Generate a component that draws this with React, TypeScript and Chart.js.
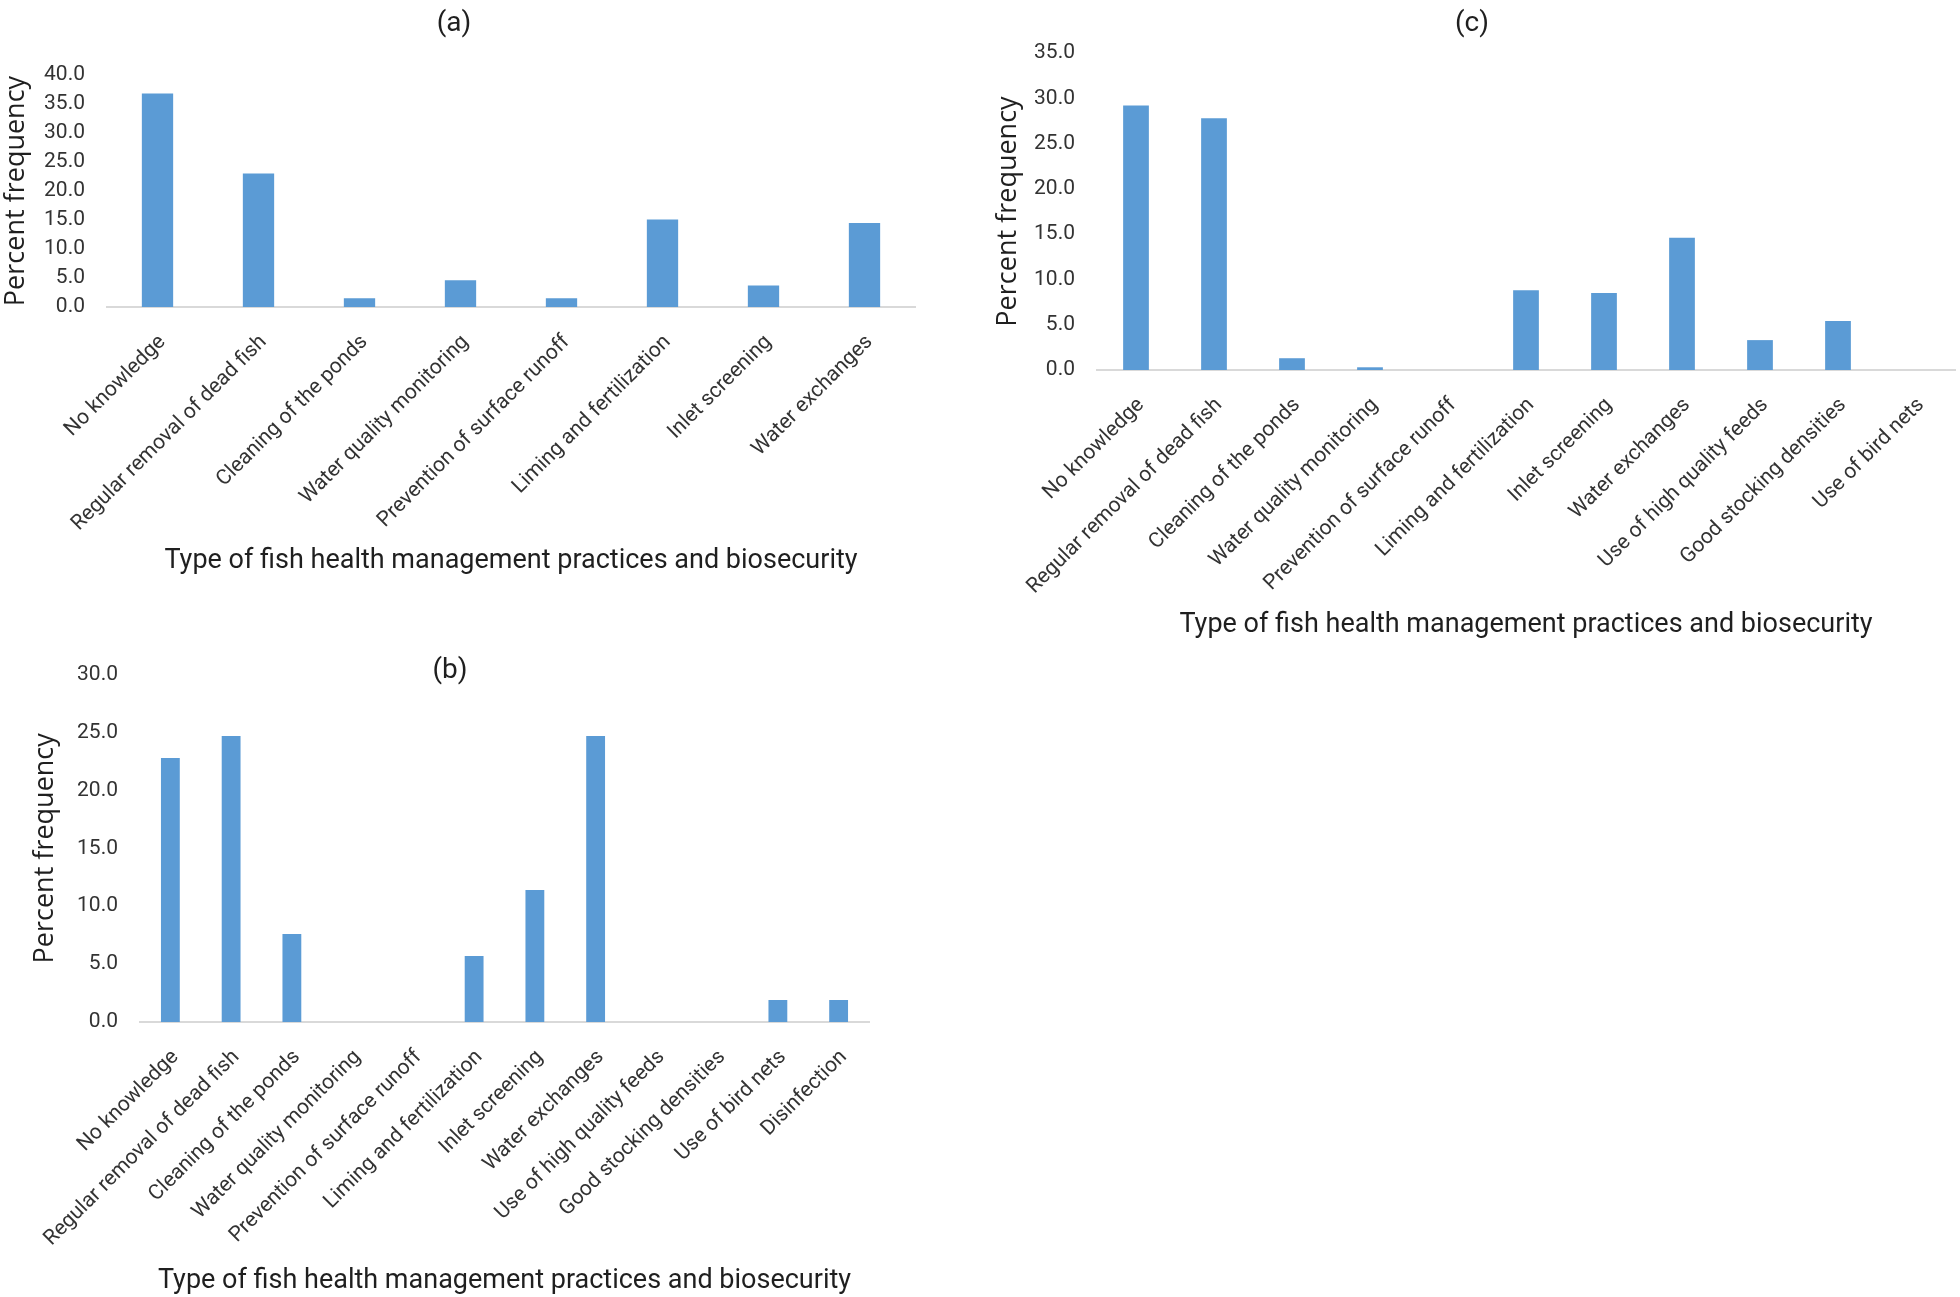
import React, { useEffect, useRef } from "react";
import { Chart, registerables } from "chart.js";

Chart.register(...registerables);

// ---------- data ----------
const categoriesA = [
  "No knowledge",
  "Regular removal of dead fish",
  "Cleaning of the ponds",
  "Water quality monitoring",
  "Prevention of surface runoff",
  "Liming and fertilization",
  "Inlet screening",
  "Water exchanges",
];
const valuesA = [36.8, 23.0, 1.5, 4.6, 1.5, 15.1, 3.7, 14.5];

const categoriesC = [
  "No knowledge",
  "Regular removal of dead fish",
  "Cleaning of the ponds",
  "Water quality monitoring",
  "Prevention of surface runoff",
  "Liming and fertilization",
  "Inlet screening",
  "Water exchanges",
  "Use of high quality feeds",
  "Good stocking densities",
  "Use of bird nets",
];
const valuesC = [29.2, 27.8, 1.3, 0.3, 0, 8.8, 8.5, 14.6, 3.3, 5.4, 0];

const categoriesB = [
  "No knowledge",
  "Regular removal of dead fish",
  "Cleaning of the ponds",
  "Water quality monitoring",
  "Prevention of surface runoff",
  "Liming and fertilization",
  "Inlet screening",
  "Water exchanges",
  "Use of high quality feeds",
  "Good stocking densities",
  "Use of bird nets",
  "Disinfection",
];
const valuesB = [22.8, 24.7, 7.6, 0, 0, 5.7, 11.4, 24.7, 0, 0, 1.9, 1.9];

const yMaxA = 40;
const yMaxC = 35;
const yMaxB = 30;
const yStep = 5;

const X_TITLE = "Type of fish health management practices and biosecurity";
const Y_TITLE = "Percent frequency";

const BAR_COLOR = "#5B9BD5";
const AXIS_COLOR = "#D9D9D9";
const TICK_COLOR = "#333333";
const TITLE_COLOR = "#1f1f1f";
const FONT = "Roboto, 'Liberation Sans', sans-serif";
const YTITLE_FONT = "'Open Sans', 'DejaVu Sans', sans-serif";

type PanelCfg = {
  left: number;
  top: number;
  width: number;
  height: number;
  labels: string[];
  values: number[];
  yMax: number;
  padTop: number;
  padRight: number;
  yWidth: number;
  xHeight: number;
  yTitlePad: number;
  xTitlePadBottom: number;
  barPct: number;
};

function Panel({ cfg }: { cfg: PanelCfg }) {
  const ref = useRef<HTMLCanvasElement>(null);
  useEffect(() => {
    const chart = new Chart(ref.current as HTMLCanvasElement, {
      type: "bar",
      data: {
        labels: cfg.labels,
        datasets: [
          {
            data: cfg.values,
            backgroundColor: BAR_COLOR,
            borderWidth: 0,
            barPercentage: cfg.barPct,
            categoryPercentage: 1,
          },
        ],
      },
      options: {
        responsive: false,
        animation: false,
        devicePixelRatio: 1,
        layout: {
          padding: { top: cfg.padTop, right: cfg.padRight, left: 0, bottom: 0 },
        },
        plugins: {
          legend: { display: false },
          tooltip: { enabled: false },
          title: { display: false },
        },
        scales: {
          x: {
            grid: { display: false, drawTicks: false },
            border: { display: true, color: AXIS_COLOR, width: 2 },
            ticks: {
              autoSkip: false,
              minRotation: 45,
              maxRotation: 45,
              padding: 23,
              labelOffset: 5,
              color: TICK_COLOR,
              font: { family: FONT, size: 21 },
            },
            title: {
              display: true,
              text: X_TITLE,
              color: TITLE_COLOR,
              font: { family: FONT, size: 27 },
              padding: { top: 0, bottom: cfg.xTitlePadBottom },
            },
            afterFit: (s: any) => {
              s.height = cfg.xHeight;
            },
          },
          y: {
            min: 0,
            max: cfg.yMax,
            grid: { display: false, drawTicks: false },
            border: { display: false },
            ticks: {
              stepSize: yStep,
              autoSkip: false,
              maxTicksLimit: 20,
              padding: 22,
              color: TICK_COLOR,
              font: { family: FONT, size: 21 },
              callback: (v: any) => Number(v).toFixed(1),
            },
            title: {
              display: true,
              text: Y_TITLE,
              color: TITLE_COLOR,
              font: { family: YTITLE_FONT, size: 27 },
              padding: { top: cfg.yTitlePad, bottom: 0 },
            },
            afterFit: (s: any) => {
              s.width = cfg.yWidth;
            },
          },
        },
      },
    } as any);
    return () => chart.destroy();
  }, [cfg]);
  return (
    <canvas
      ref={ref}
      width={cfg.width}
      height={cfg.height}
      style={{
        position: "absolute",
        left: cfg.left,
        top: cfg.top,
        width: cfg.width,
        height: cfg.height,
      }}
    />
  );
}

const panelA: PanelCfg = {
  left: 0,
  top: 0,
  width: 930,
  height: 590,
  labels: categoriesA,
  values: valuesA,
  yMax: yMaxA,
  padTop: 75,
  padRight: 15,
  yWidth: 107,
  xHeight: 283,
  yTitlePad: 0,
  xTitlePadBottom: 13,
  barPct: 0.31,
};

const panelC: PanelCfg = {
  left: 990,
  top: 0,
  width: 970,
  height: 650,
  labels: categoriesC,
  values: valuesC,
  yMax: yMaxC,
  padTop: 53,
  padRight: 5,
  yWidth: 107,
  xHeight: 280,
  yTitlePad: 2,
  xTitlePadBottom: 9,
  barPct: 0.33,
};

const panelB: PanelCfg = {
  left: 0,
  top: 640,
  width: 880,
  height: 657,
  labels: categoriesB,
  values: valuesB,
  yMax: yMaxB,
  padTop: 22,
  padRight: 11,
  yWidth: 140,
  xHeight: 275,
  yTitlePad: 29,
  xTitlePadBottom: 0,
  barPct: 0.31,
};

const panelLabels = [
  { text: "(a)", x: 454, y: 22 },
  { text: "(c)", x: 1472, y: 22 },
  { text: "(b)", x: 450, y: 669 },
];

export default function App() {
  return (
    <div
      style={{
        position: "absolute",
        left: 0,
        top: 0,
        width: 1960,
        height: 1297,
        background: "#ffffff",
        overflow: "hidden",
      }}
    >
      <Panel cfg={panelA} />
      <Panel cfg={panelC} />
      <Panel cfg={panelB} />
      {panelLabels.map((p) => (
        <div
          key={p.text}
          style={{
            position: "absolute",
            left: p.x,
            top: p.y,
            transform: "translate(-50%, -50%)",
            fontFamily: FONT,
            fontSize: 28,
            color: TITLE_COLOR,
            whiteSpace: "nowrap",
            lineHeight: 1,
          }}
        >
          {p.text}
        </div>
      ))}
    </div>
  );
}
